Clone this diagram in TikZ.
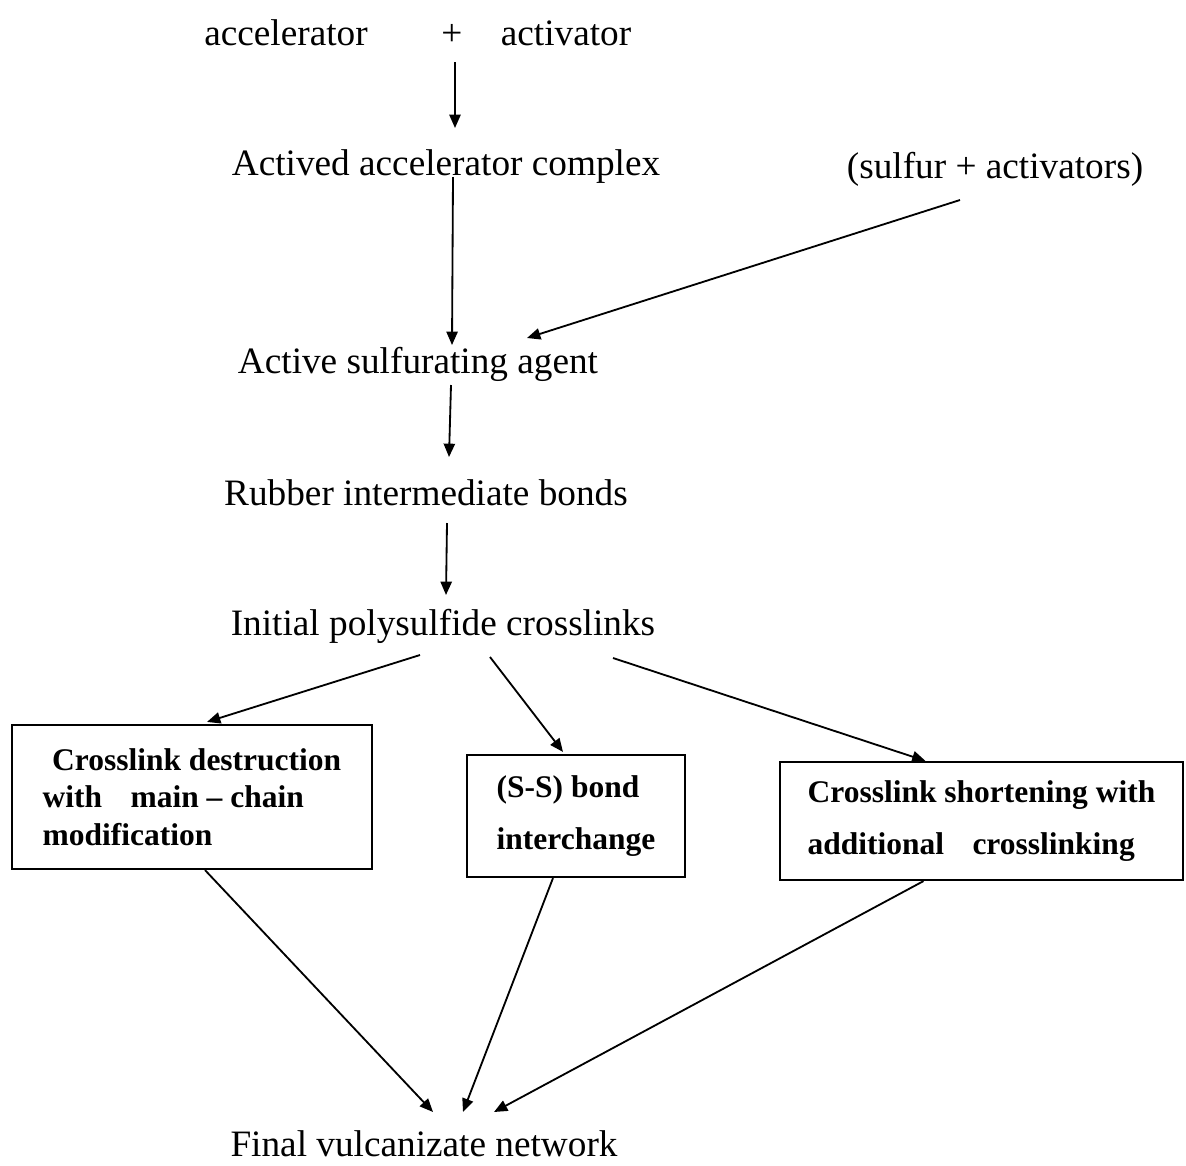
\documentclass[tikz,border=0pt]{standalone}
\usepackage{fontspec}
\setmainfont{Liberation Serif}
\usetikzlibrary{arrows.meta,calc}
\tikzset{
  lbl/.style={inner sep=0pt, anchor=base, font=\fontsize{26.5}{30}\selectfont},
  boxnode/.style={draw, line width=1.5pt, inner sep=4pt, align=left,
    font=\bfseries\fontsize{22.4}{26.5}\selectfont},
  arr/.style={line width=1.3pt, -{Triangle[length=9.5pt,width=8pt]}}
}
\begin{document}
\begin{tikzpicture}[x=0.025cm,y=-0.025cm]
\useasboundingbox[fill=white] (0,0) rectangle (1186,1166);
% text nodes
\node[lbl] (acc) at (286,45) {accelerator};
\node[lbl] (plus) at (452,45) {+};
\node[lbl] (act) at (566,45) {activator};
\node[lbl] (aac) at (446,175) {Actived accelerator complex};
\node[lbl] (sa) at (995,178) {(sulfur + activators)};
\node[lbl] (asa) at (418,373) {Active sulfurating agent};
\node[lbl] (rib) at (426,505) {Rubber intermediate bonds};
\node[lbl] (ipc) at (443,635) {Initial polysulfide crosslinks};
\node[lbl] (fin) at (424,1156) {Final vulcanizate network};
% boxes
\node[boxnode, minimum width=9cm, minimum height=3.6cm] (b1) at (192,797)
  {\hspace*{0.3em}Crosslink destruction\\with\hspace{0.65em} main -- chain\\modification};
\node[boxnode, minimum width=5.45cm, minimum height=3.05cm] (b2) at (576,816)
  {(S-S) bond\\[11pt]interchange};
\node[boxnode, minimum width=10.075cm, minimum height=2.95cm] (b3) at (981.5,821)
  {Crosslink shortening with\\[11pt]additional\hspace{0.65em} crosslinking};
% connectors
\draw[arr] ($(plus.base)+(3,17)$) -- ($(aac.base)+(9,-47)$);
\draw[arr] ($(aac.base)+(7,2)$) -- ($(asa.base)+(34,-28)$);
\draw[arr] ($(sa.base)+(-35,22)$) -- ($(asa.base)+(109,-35)$);
\draw[arr] ($(asa.base)+(33,12)$) -- ($(rib.base)+(23,-48)$);
\draw[arr] ($(rib.base)+(21,18)$) -- ($(ipc.base)+(3,-40)$);
\draw[arr] ($(ipc.base)+(-23,20)$) -- ($(b1.north)+(15,-2)$);
\draw[arr] ($(ipc.base)+(47,22)$) -- ($(b2.north)+(-13,-2)$);
\draw[arr] ($(ipc.base)+(170,23)$) -- ($(b3.north)+(-56,0)$);
\draw[arr] ($(b1.south)+(13,0)$) -- ($(fin.base)+(9,-44)$);
\draw[arr] ($(b2.south)+(-23,0)$) -- ($(fin.base)+(39,-44)$);
\draw[arr] ($(b3.south)+(-58,0)$) -- ($(fin.base)+(70,-44)$);
\end{tikzpicture}
\end{document}
